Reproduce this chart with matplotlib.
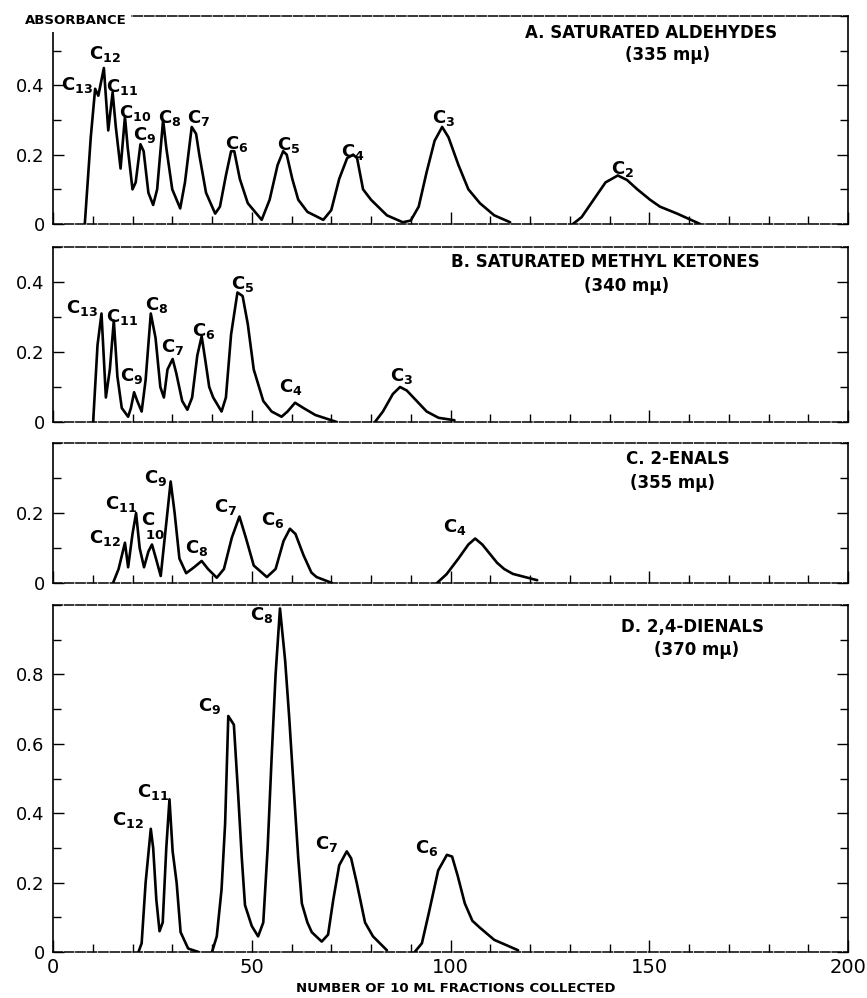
import matplotlib
matplotlib.use('Agg')
import numpy as np
import matplotlib.pyplot as plt
from matplotlib.ticker import MultipleLocator, FuncFormatter

plt.rcParams['font.family'] = ['DejaVu Sans']
plt.rcParams['mathtext.fontset'] = 'dejavusans'

# ---- panel A : saturated aldehydes (335 mu) ----
a1_x = [8.0, 9.5, 10.6, 11.4, 12.8, 13.9, 15.0, 15.8, 17.0, 18.1, 18.8, 20.0, 20.8, 22.0, 22.8, 24.0,
        25.2, 26.2, 27.7, 28.5, 30.0, 32.0, 33.2, 34.9, 36.0, 36.8, 38.5, 40.8, 42.0, 43.5, 44.8, 45.6,
        47.0, 49.0, 52.5, 54.5, 56.5, 57.9, 58.8, 60.2, 61.7, 64.0, 68.0, 70.0, 72.0, 74.0, 75.5, 76.5,
        78.0, 80.0, 84.0, 88.0, 90.0, 92.0, 94.0, 96.0, 97.9, 99.5, 102.0, 104.5, 107.4, 111.0, 115.0]
a1_y = [0.0, 0.25, 0.39, 0.37, 0.45, 0.27, 0.38, 0.28, 0.16, 0.31, 0.22, 0.10, 0.12, 0.23, 0.21, 0.09,
        0.055, 0.10, 0.30, 0.22, 0.10, 0.045, 0.12, 0.28, 0.26, 0.20, 0.09, 0.03, 0.05, 0.14, 0.21, 0.21,
        0.13, 0.06, 0.012, 0.07, 0.17, 0.21, 0.20, 0.13, 0.07, 0.035, 0.012, 0.04, 0.13, 0.19, 0.20, 0.19,
        0.10, 0.07, 0.025, 0.005, 0.01, 0.05, 0.15, 0.24, 0.28, 0.25, 0.17, 0.10, 0.06, 0.025, 0.005]
a2_x = [130.8, 133.0, 136.0, 139.0, 142.1, 144.4, 147.0, 150.2, 152.7, 157.0, 162.8]
a2_y = [0.0, 0.02, 0.07, 0.12, 0.14, 0.127, 0.10, 0.07, 0.05, 0.03, 0.0]
a_labels = ['13', '12', '11', '10', '9', '8', '7', '6', '5', '4', '3', '2']
a_lab_x = [6.0, 13.1, 17.3, 20.6, 23.1, 29.4, 36.5, 46.3, 59.2, 75.5, 98.2, 143.4]
a_lab_y = [0.40, 0.49, 0.395, 0.32, 0.256, 0.305, 0.305, 0.23, 0.228, 0.208, 0.305, 0.16]

# ---- panel B : saturated methyl ketones (340 mu) ----
b1_x = [10.1, 11.2, 12.2, 13.3, 14.3, 15.3, 16.2, 17.3, 18.9, 19.6, 20.4, 21.2, 22.3, 23.3, 24.6, 25.8,
        27.0, 27.9, 28.8, 30.1, 31.0, 32.5, 33.8, 35.0, 36.3, 37.4, 38.4, 39.3, 40.3, 42.4, 43.5, 44.8,
        46.4, 47.7, 49.0, 50.5, 52.9, 55.0, 57.5, 59.0, 60.9, 63.0, 66.0, 71.4]
b1_y = [0.0, 0.22, 0.31, 0.07, 0.15, 0.29, 0.13, 0.04, 0.015, 0.04, 0.085, 0.06, 0.03, 0.12, 0.31, 0.24,
        0.10, 0.07, 0.15, 0.18, 0.14, 0.06, 0.035, 0.07, 0.19, 0.245, 0.17, 0.10, 0.07, 0.03, 0.07, 0.25,
        0.37, 0.36, 0.28, 0.15, 0.06, 0.03, 0.015, 0.03, 0.055, 0.04, 0.02, 0.0]
b2_x = [81.0, 83.0, 85.5, 87.3, 89.0, 91.5, 94.0, 97.0, 101.0]
b2_y = [0.0, 0.03, 0.08, 0.10, 0.09, 0.06, 0.03, 0.012, 0.005]
b_labels = ['13', '11', '9', '8', '7', '6', '5', '4', '3']
b_lab_x = [7.3, 17.3, 19.8, 26.2, 30.2, 38.0, 47.7, 59.8, 87.7]
b_lab_y = [0.325, 0.30, 0.13, 0.335, 0.213, 0.26, 0.395, 0.10, 0.13]

# ---- panel C : 2-enals (355 mu) ----
c1_x = [15.1, 16.5, 18.1, 18.9, 20.0, 20.9, 21.8, 22.9, 24.0, 24.9, 25.9, 27.1, 28.3, 29.6, 30.6, 31.8,
        33.5, 35.5, 37.4, 39.0, 41.2, 43.0, 45.0, 46.9, 48.5, 50.5, 53.8, 56.0, 58.0, 59.6, 61.0, 63.0,
        65.0, 66.3, 70.2]
c1_y = [0.0, 0.04, 0.115, 0.045, 0.14, 0.20, 0.10, 0.045, 0.09, 0.11, 0.07, 0.02, 0.15, 0.29, 0.20, 0.07,
        0.028, 0.045, 0.063, 0.04, 0.015, 0.04, 0.13, 0.19, 0.13, 0.05, 0.017, 0.04, 0.12, 0.155, 0.14, 0.08,
        0.03, 0.017, 0.0]
c2_x = [96.6, 99.0, 102.0, 104.5, 106.2, 108.0, 111.7, 113.5, 115.7, 121.8]
c2_y = [0.0, 0.025, 0.07, 0.11, 0.127, 0.11, 0.058, 0.04, 0.026, 0.008]
c_labels = ['12', '11', '9', '8', '7', '6', '4']
c_lab_x = [13.1, 17.1, 25.7, 36.2, 43.3, 55.3, 101.0]
c_lab_y = [0.13, 0.225, 0.30, 0.10, 0.216, 0.18, 0.16]

# ---- panel D : 2,4-dienals (370 mu) ----
d1_x = [21.5, 22.3, 23.3, 24.6, 25.2, 26.0, 26.8, 27.6, 28.5, 29.3, 30.1, 31.1, 32.1, 34.0, 36.6]
d1_y = [0.0, 0.025, 0.20, 0.355, 0.30, 0.15, 0.06, 0.085, 0.30, 0.44, 0.29, 0.20, 0.057, 0.01, 0.0]
d2_x = [40.0, 41.2, 42.4, 43.3, 44.1, 45.5, 46.6, 47.5, 48.3, 50.0, 51.6, 52.9, 54.0, 55.0, 56.0, 57.1,
        58.4, 59.4, 60.4, 61.7, 62.6, 64.0, 65.1, 67.6, 69.2, 70.5, 72.0, 73.9, 75.0, 76.4, 78.5, 80.5, 84.0]
d2_y = [0.0, 0.045, 0.18, 0.37, 0.68, 0.655, 0.45, 0.27, 0.135, 0.075, 0.045, 0.085, 0.30, 0.56, 0.80, 0.99,
        0.84, 0.68, 0.50, 0.27, 0.14, 0.085, 0.057, 0.03, 0.05, 0.15, 0.25, 0.29, 0.27, 0.20, 0.085, 0.045, 0.005]
d3_x = [91.0, 92.8, 94.5, 96.9, 99.1, 100.4, 101.8, 103.6, 105.5, 107.4, 111.0, 117.0]
d3_y = [0.0, 0.025, 0.11, 0.235, 0.28, 0.275, 0.22, 0.14, 0.09, 0.07, 0.035, 0.005]
d_labels = ['12', '11', '9', '8', '7', '6']
d_lab_x = [18.9, 25.1, 39.5, 52.5, 68.9, 94.0]
d_lab_y = [0.38, 0.46, 0.71, 0.97, 0.31, 0.30]

titles = ['A. SATURATED ALDEHYDES', 'B. SATURATED METHYL KETONES', 'C. 2-ENALS', 'D. 2,4-DIENALS']
waves = ['(335 m\u03bc)', '(340 m\u03bc)', '(355 m\u03bc)', '(370 m\u03bc)']
ytops = [0.6, 0.5, 0.4, 1.0]

fig = plt.figure(figsize=(8.67, 9.98), dpi=100)
W, H = 867.0, 998.0
# (top px, bottom px) of each panel
boxes = [(16, 224), (247, 422), (443, 583), (605, 952)]
axes = []
for (t, b) in boxes:
    ax = fig.add_axes([53 / W, 1 - b / H, 795 / W, (b - t) / H])
    axes.append(ax)

segs = [[(a1_x, a1_y), (a2_x, a2_y)],
        [(b1_x, b1_y), (b2_x, b2_y)],
        [(c1_x, c1_y), (c2_x, c2_y)],
        [(d1_x, d1_y), (d2_x, d2_y), (d3_x, d3_y)]]
labs = [(a_labels, a_lab_x, a_lab_y), (b_labels, b_lab_x, b_lab_y),
        (c_labels, c_lab_x, c_lab_y), (d_labels, d_lab_x, d_lab_y)]
# title positions (data coords): line1 centre x, y ; line2 centre x, y
tpos = [(150.4, 0.55, 154.5, 0.487),
        (138.9, 0.458, 144.2, 0.389),
        (157.2, 0.354, 155.9, 0.285),
        (160.8, 0.937, 161.8, 0.870)]

fmt = FuncFormatter(lambda v, p: '0' if abs(v) < 1e-9 else '%.1f' % v)

for i, ax in enumerate(axes):
    for xs, ys in segs[i]:
        ax.plot(xs, ys, color='black', lw=1.9, solid_joinstyle='round', solid_capstyle='round')
    names, lx, ly = labs[i]
    for n, x, y in zip(names, lx, ly):
        ax.text(x, y, r'$\mathbf{C}_{\mathbf{%s}}$' % n, fontsize=13, ha='center', va='center')
    ax.set_xlim(0, 200)
    ax.set_ylim(0, ytops[i])
    ax.xaxis.set_major_locator(MultipleLocator(50))
    ax.xaxis.set_minor_locator(MultipleLocator(10))
    ax.set_yticks(np.arange(0, ytops[i] - 0.01, 0.2))
    ax.yaxis.set_minor_locator(MultipleLocator(0.1))
    ax.yaxis.set_major_formatter(fmt)
    ax.tick_params(axis='x', which='both', direction='in', top=False, bottom=True)
    ax.tick_params(axis='x', which='major', length=9, width=1)
    ax.tick_params(axis='x', which='minor', length=6, width=1)
    ax.tick_params(axis='y', which='both', direction='in', left=True, right=True, width=1)
    ax.tick_params(axis='y', which='major', length=8, labelsize=13, pad=6)
    ax.tick_params(axis='y', which='minor', length=6)
    if i < 3:
        ax.tick_params(axis='x', labelbottom=False)
    else:
        ax.tick_params(axis='x', labelsize=14, pad=4)
    for s in ['left', 'right']:
        ax.spines[s].set_linewidth(1.2)
    for s in ['top', 'bottom']:
        ax.spines[s].set_linewidth(1.1)
        ax.spines[s].set_linestyle((0, (6, 1.5)))
    x1, y1, x2, y2 = tpos[i]
    ax.text(x1, y1, titles[i], fontsize=12, fontweight='bold', ha='center', va='center')
    ax.text(x2, y2, waves[i], fontsize=12, fontweight='bold', ha='center', va='center')

# panel C prints its C10 label as "C" with "10" set below it
axes[2].text(23.9, 0.18, r'$\mathbf{C}$', fontsize=13, ha='center', va='center')
axes[2].text(25.7, 0.135, r'$\mathbf{10}$', fontsize=9.5, ha='center', va='center')

fig.text(76 / W, 1 - 21 / H, 'ABSORBANCE', fontsize=9.5, fontweight='bold', ha='center', va='center',
         bbox=dict(facecolor='white', edgecolor='none', pad=3))
fig.text(456 / W, 1 - 988 / H, 'NUMBER OF 10 ML FRACTIONS COLLECTED', fontsize=9.5,
         fontweight='bold', ha='center', va='center')

fig.savefig('out.png', dpi=100, facecolor='white')
